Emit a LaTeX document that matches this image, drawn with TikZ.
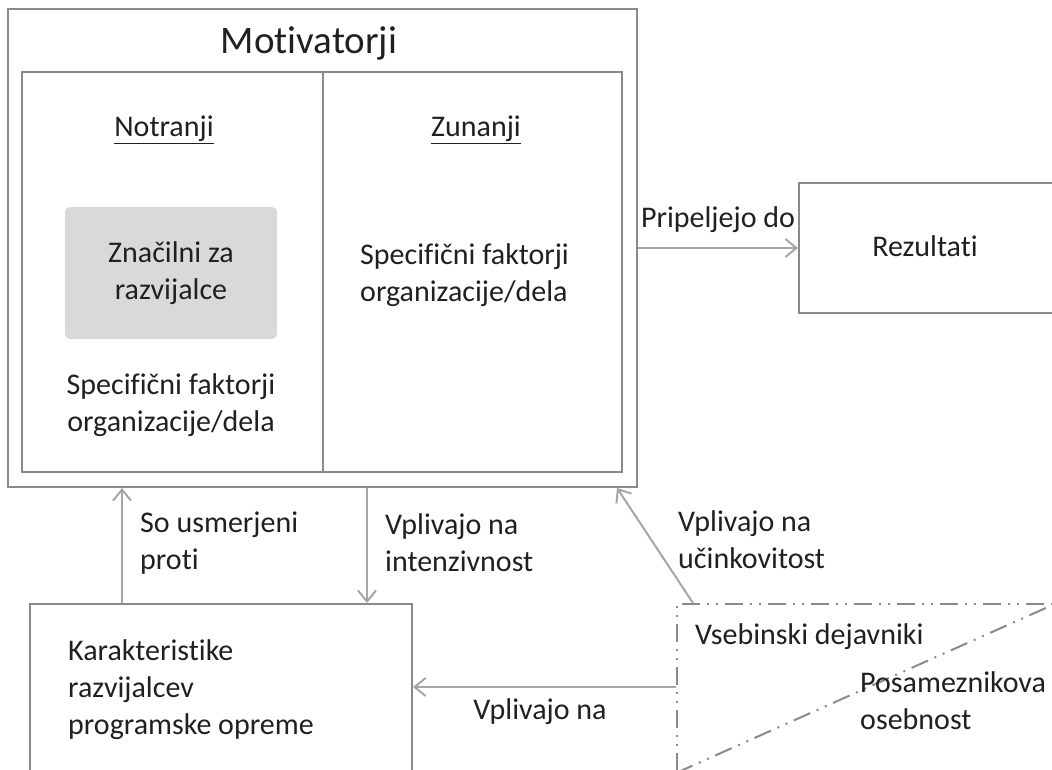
\documentclass[tikz,border=0pt]{standalone}
\usepackage{fontspec}
\setmainfont{Carlito}[Ligatures=CommonOff]
\usetikzlibrary{arrows.meta,calc}
\definecolor{boxgray}{HTML}{8A8A8A}
\definecolor{arrgray}{HTML}{A6A6A6}
\definecolor{fillgray}{HTML}{D9D9D9}
\definecolor{txt}{HTML}{202020}
\begin{document}
\begin{tikzpicture}[x=1pt,y=-1pt,
  box/.style={draw=boxgray, line width=2pt, rectangle, inner sep=0pt},
  ddline/.style={draw=boxgray, line width=2pt,
    dash pattern=on 18pt off 7pt on 2pt off 7pt on 2pt off 7pt},
  arr/.style={draw=arrgray, line width=2pt, -{Straight Barb[length=11pt,width=18pt]}},
  lbl/.style={text=txt, font=\fontsize{30}{37}\selectfont, inner sep=0pt},
  titlefont/.style={text=txt, font=\fontsize{39}{44}\selectfont, inner sep=0pt}]
\useasboundingbox (0,0) rectangle (1052,769);
\clip (0,0) rectangle (1052,769);
% boxes
\node[box, minimum width=629pt, minimum height=478pt] (outer) at (322.5,248) {};
\node[box, minimum width=301pt, minimum height=400pt] (inl) at (172.5,272) {};
\node[box, minimum width=299pt, minimum height=400pt] (inr) at (472.5,272) {};
\node[box, minimum width=282pt, minimum height=130pt] (rez) at (940,248) {};
\node[box, minimum width=382pt, minimum height=192pt] (kar) at (221,700) {};
\node[box, ddline, minimum width=379pt, minimum height=168pt] (dd) at (866.5,688) {};
\draw[ddline] (dd.south west) -- (dd.north east);
\node[fill=fillgray, rounded corners=5pt, minimum width=212pt, minimum height=132pt, inner sep=0pt] (zn) at (171,273) {};
% texts
\node[titlefont] (title) at (309,43) {Motivatorji};
\node[lbl] (notr) at (164,130) {\underline{Notranji}};
\node[lbl] (zun) at (476,130) {\underline{Zunanji}};
\node[lbl, align=center] (zntxt) at (zn) {Značilni za\\razvijalce};
\node[lbl, align=center] (spl) at (171,405) {Specifični faktorji\\organizacije/dela};
\node[lbl, align=left, anchor=west] (spr) at (360,275) {Specifični faktorji\\organizacije/dela};
\node[lbl] (reztxt) at (925,246) {Rezultati};
\node[lbl, align=left, anchor=west] (kartxt) at (68,690) {Karakteristike\\razvijalcev\\programske opreme};
\node[lbl, anchor=west] (vseb) at (695,637) {Vsebinski dejavniki};
\node[lbl, align=left, anchor=west] (pos) at (860,701) {Posameznikova\\osebnost};
% helper coordinates
\coordinate (ux) at (122,0);
\coordinate (vx) at (367,0);
\coordinate (hy) at (0,687);
\coordinate (ex) at (693,0);
\coordinate (fx) at (617,0);
% connectors
\draw[arr] (outer.east) -- (rez.west);
\draw[arr] (kar.north -| ux) -- (outer.south -| ux);
\draw[arr] (outer.south -| vx) -- (kar.north -| vx);
\draw[arr] (dd.west |- hy) -- (kar.east |- hy);
\draw[arr] (dd.north -| ex) -- (outer.south -| fx);
% connector labels
\node[lbl] (l1) at (718,220) {Pripeljejo do};
\node[lbl, align=left, anchor=west] (l2) at (140,543) {So usmerjeni\\proti};
\node[lbl, align=left, anchor=west] (l3) at (385,543) {Vplivajo na\\intenzivnost};
\node[lbl, align=left, anchor=west] (l4) at (678,540) {Vplivajo na\\učinkovitost};
\node[lbl] (l5) at (540,712) {Vplivajo na};
\end{tikzpicture}
\end{document}
